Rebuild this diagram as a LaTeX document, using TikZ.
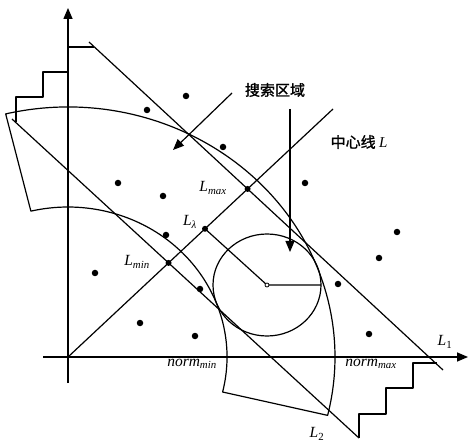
\documentclass[tikz,border=0pt]{standalone}
\usepackage{fontspec}
\setmainfont{Liberation Serif}
\newfontfamily\cjk[AutoFakeBold=1.3]{Noto Sans CJK SC}
\usetikzlibrary{arrows.meta,calc}
\newcommand{\Lsub}[1]{\textit{L}\textsubscript{\textit{#1}}}
\begin{document}
\begin{tikzpicture}[x=1pt,y=-1pt,line join=round,
  ln/.style={line width=1.2pt},
  axis/.style={line width=1.5pt},
  stair/.style={line width=1.8pt},
  dot/.style={circle,fill,inner sep=0pt,minimum size=6.5pt},
  pt/.style={circle,fill,inner sep=0pt,minimum size=6pt},
  lbl/.style={inner sep=0pt,font=\fontsize{15.5}{15.5}\selectfont},
  cn/.style={inner sep=0pt,font=\cjk\bfseries\fontsize{15}{15}\selectfont},
  tip/.style={-{Triangle[length=11pt,width=9pt]}}]
\useasboundingbox (0,0) rectangle (468,443);
% key points
\coordinate (O) at (68,357);
\coordinate (Ytop) at (68,8);
\coordinate (Ybot) at (68,383);
\coordinate (Xl) at (43,357);
\coordinate (Xr) at (468,357);
\coordinate (Ltop) at (333,109);
\coordinate (A1) at (89,42);
\coordinate (B1) at (443,370);
\coordinate (A2) at (12,119);
\coordinate (B2) at (359,438);
\coordinate (C) at (267,285);
\coordinate (R) at (321,285);
\coordinate (SA) at (232,93);
\coordinate (SB) at (173,150);
\coordinate (VA) at (290,109);
\coordinate (VB) at (290,252);
% axes
\draw[axis,tip] (Ybot) -- (Ytop);
\draw[axis,tip] (Xl) -- (Xr);
% staircases
\draw[stair] (94,47) -- (68,47) -- (68,72) -- (43,72) -- (43,97) -- (16,97) -- (16,122);
\draw[stair] (437,363) -- (413,363) -- (413,388) -- (386,388) -- (386,414) -- (359,414) -- (359,438);
% search region (annular sector)
\draw[ln] ([shift={(-103.5:267 and 250)}]O) arc[start angle=-103.5,end angle=13.5,x radius=267,y radius=250]
  -- ([shift={(13.5:159 and 150)}]O) arc[start angle=13.5,end angle=-103.5,x radius=159,y radius=150] -- cycle;
% lines
\draw[ln] (O) -- (Ltop);
\draw[ln] (A1) -- (B1);
\draw[ln] (A2) -- (B2);
\coordinate (Lmin) at (intersection of O--Ltop and A2--B2);
\coordinate (Lmax) at (intersection of O--Ltop and A1--B1);
\coordinate (L3) at ($(O)!0.517!(Ltop)$);
% circle
\draw[ln] (C) ellipse[x radius=54,y radius=51];
\draw[ln] (L3) -- (C) -- (R);
\node[circle,draw,fill=white,inner sep=0pt,minimum size=4pt,line width=0.8pt] (c) at (C) {};
\node[pt] (pmin) at (Lmin) {};
\node[pt] (pmax) at (Lmax) {};
\node[pt] (p3) at (L3) {};
% arrows
\draw[ln,tip] (SA) -- (SB);
\draw[ln,tip] (VA) -- (VB);
% dots
\foreach \p [count=\i] in {(147,110),(186,96),(223,147),(118,183),(163,196),(305,183),(166,235),(95,273),(200,289),(140,323),(195,336),(338,284),(397,232),(379,258),(369,334)}
  \node[dot] (d\i) at \p {};
% labels
\node[cn] (t1) at (275,90) {搜索区域};
\node[cn] (t2) at (359,142) {中心线 {\rmfamily\mdseries\itshape L}};
\node[lbl] (lmax) at (213,188) {\Lsub{max}};
\node[lbl] (l3) at (190,222) {\textit{L}\textsubscript{\textit{λ}}};
\node[lbl] (lmin) at (137,262) {\Lsub{min}};
\node[lbl] (nmin) at (192,364) {\textit{norm}\textsubscript{\textit{min}}};
\node[lbl] (nmax) at (371,364) {\textit{norm}\textsubscript{\textit{max}}};
\node[lbl] (l1) at (445,342) {\textit{L}\textsubscript{1}};
\node[lbl] (l2) at (317,434) {\textit{L}\textsubscript{2}};
\end{tikzpicture}
\end{document}
